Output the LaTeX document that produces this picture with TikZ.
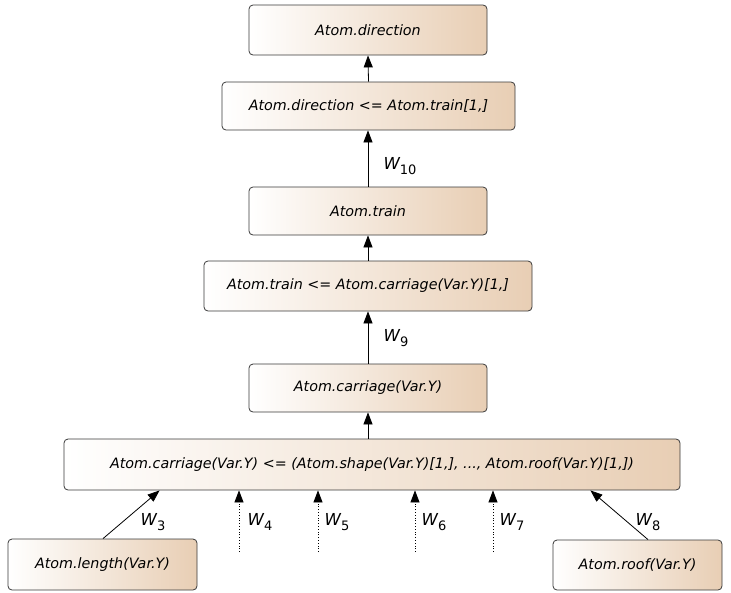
\documentclass[tikz,border=0pt]{standalone}
\usepackage{fontspec}
\setmainfont{DejaVu Sans}
\usetikzlibrary{arrows.meta,calc}
\definecolor{boxtan}{HTML}{E8CEB4}
\definecolor{boxedge}{HTML}{3A3A3A}
\tikzset{
  atombox/.style={draw=boxedge, line width=0.8pt, rounded corners=4pt,
    left color=white, right color=boxtan, shading angle=90,
    inner sep=0pt, font=\fontsize{14.3}{16}\selectfont\itshape},
  link/.style={line width=0.8pt, -{Triangle[length=12pt,width=9pt]}},
  weakl/.style={link, dotted},
  wlabel/.style={inner sep=0pt, font=\fontsize{16.5}{18}\selectfont\itshape}
}
\newcommand{\wlab}[1]{W\raisebox{-0.6ex}{\fontsize{13}{14}\selectfont\upshape #1}}
\begin{document}
\begin{tikzpicture}[x=1pt,y=-1pt]
\useasboundingbox (0,0) rectangle (731,592);

% rule chain, top to bottom
\node[atombox, minimum width=238pt, minimum height=50pt] (dir)  at (368,30)    {Atom.direction};
\node[atombox, minimum width=293pt, minimum height=48pt] (dirr) at (368.5,106) {Atom.direction <= Atom.train[1,]};
\node[atombox, minimum width=238pt, minimum height=48pt] (tr)   at (368,211)   {Atom.train};
\node[atombox, minimum width=328pt, minimum height=50pt] (trr)  at (368,286)   {Atom.train <= Atom.carriage(Var.Y)[1,]};
\node[atombox, minimum width=238pt, minimum height=48pt] (car)  at (368,388)   {Atom.carriage(Var.Y)};
\node[atombox, minimum width=616pt, minimum height=51pt] (carr) at (372,464.5) {Atom.carriage(Var.Y) <= (Atom.shape(Var.Y)[1,], ..., Atom.roof(Var.Y)[1,])};
\node[atombox, minimum width=189pt, minimum height=51pt] (len)  at (102.5,564.5) {Atom.length(Var.Y)};
\node[atombox, minimum width=169pt, minimum height=50pt] (roof) at (637.5,565) {Atom.roof(Var.Y)};

% vertical links along the chain
\draw[link] (dirr.north) -- (dir.north |- dir.south);
\draw[link] (tr.north)   -- (tr.north |- dirr.south);
\draw[link] (trr.north)  -- (tr.south);
\draw[link] (car.north)  -- (car.north |- trr.south);
\draw[link] (carr.north -| car.north) -- (car.south);

% body literals feeding the clause
\draw[link] ($(len.north)+(0.5,0)$) -- ($(carr.south west)+(96,0)$);
\draw[link] ($(roof.north)+(10.5,0)$) -- ($(carr.south east)+(-90,0)$);

\coordinate (f4) at (239,552);
\coordinate (f5) at (318,552);
\coordinate (f6) at (415,552);
\coordinate (f7) at (493,552);
\draw[weakl] (f4) -- (f4 |- carr.south);
\draw[weakl] (f5) -- (f5 |- carr.south);
\draw[weakl] (f6) -- (f6 |- carr.south);
\draw[weakl] (f7) -- (f7 |- carr.south);

% weights
\node[wlabel] (w10) at (400,166) {\wlab{10}};
\node[wlabel] (w9)  at (396,338) {\wlab{9}};
\node[wlabel] (w3)  at (153,522) {\wlab{3}};
\node[wlabel] (w4)  at (260,522) {\wlab{4}};
\node[wlabel] (w5)  at (337,522) {\wlab{5}};
\node[wlabel] (w6)  at (434,522) {\wlab{6}};
\node[wlabel] (w7)  at (512,522) {\wlab{7}};
\node[wlabel] (w8)  at (648,522) {\wlab{8}};
\end{tikzpicture}
\end{document}
